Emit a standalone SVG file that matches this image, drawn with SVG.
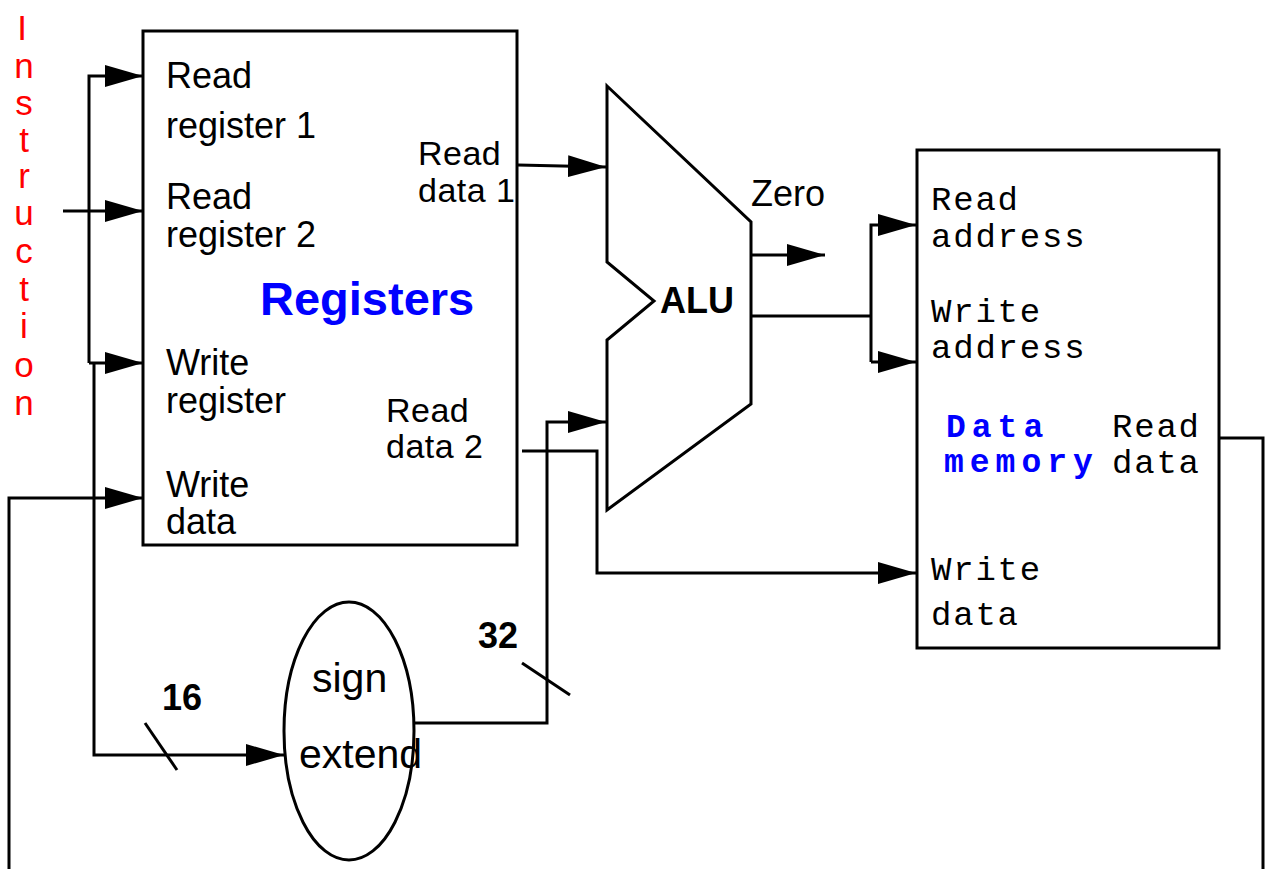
<svg xmlns="http://www.w3.org/2000/svg" width="1265" height="869" viewBox="0 0 1265 869">
  <style>
    .wire { fill: none; stroke: #000; stroke-width: 3; }
    .box { fill: #fff; stroke: #000; stroke-width: 3; }
    .lbl { font-family: "Liberation Sans", Arial, sans-serif; font-size: 36px; fill: #000; }
    .sm { font-size: 34px; letter-spacing: 0.5px; }
    .big { font-size: 41px; }
    .bold { font-family: "Liberation Sans", Arial, sans-serif; font-weight: bold; font-size: 36px; fill: #000; }
    .title { font-family: "Liberation Sans", Arial, sans-serif; font-weight: bold; font-size: 47px; fill: #0000ff; }
    .mono { font-family: "Liberation Mono", "Courier New", monospace; font-size: 34px; letter-spacing: 1.8px; fill: #000; }
    .monob { font-family: "Liberation Mono", "Courier New", monospace; font-weight: bold; font-size: 33px; fill: #0000ff; letter-spacing: 6px; }
    .instr { font-family: "Liberation Sans", Arial, sans-serif; font-size: 35px; fill: #ff0000; text-anchor: middle; }
  </style>
  <defs>
    <marker id="arrow" markerUnits="userSpaceOnUse" markerWidth="38" markerHeight="22" refX="38" refY="11" orient="auto">
      <path d="M0,0 L38,11 L0,22 z" fill="#000"/>
    </marker>
  </defs>

  <rect width="1265" height="869" fill="#fff"/>

  <!-- Instruction label, one letter per line -->
  <g id="instruction">
    <text class="instr" x="22" y="40">I</text>
    <text class="instr" x="24" y="78">n</text>
    <text class="instr" x="24" y="115">s</text>
    <text class="instr" x="24" y="152">t</text>
    <text class="instr" x="24" y="188">r</text>
    <text class="instr" x="24" y="225">u</text>
    <text class="instr" x="24" y="263">c</text>
    <text class="instr" x="24" y="301">t</text>
    <text class="instr" x="24" y="338">i</text>
    <text class="instr" x="24" y="377">o</text>
    <text class="instr" x="24" y="415">n</text>
  </g>

  <!-- Register file -->
  <g id="registers">
    <rect class="box" x="143" y="31" width="374" height="514"/>
    <text class="lbl" x="166" y="88">Read</text>
    <text class="lbl" x="166" y="138">register 1</text>
    <text class="lbl" x="166" y="209">Read</text>
    <text class="lbl" x="166" y="247">register 2</text>
    <text class="title" x="260" y="315">Registers</text>
    <text class="lbl" x="166" y="375">Write</text>
    <text class="lbl" x="166" y="413">register</text>
    <text class="lbl" x="166" y="497">Write</text>
    <text class="lbl" x="166" y="534">data</text>
    <text class="lbl sm" x="418" y="165">Read</text>
    <text class="lbl sm" x="418" y="202">data 1</text>
    <text class="lbl sm" x="386" y="422">Read</text>
    <text class="lbl sm" x="386" y="458">data 2</text>
  </g>

  <!-- ALU -->
  <g id="alu">
    <polygon class="box" points="607,86 751,222 751,404 607,510 607,340 654,301 607,262"/>
    <text class="bold" x="660" y="313">ALU</text>
    <text class="lbl" x="751" y="206">Zero</text>
  </g>

  <!-- Data memory -->
  <g id="data-memory">
    <rect class="box" x="917" y="150" width="302" height="498"/>
    <text class="mono" x="931" y="210">Read</text>
    <text class="mono" x="931" y="247">address</text>
    <text class="mono" x="931" y="322">Write</text>
    <text class="mono" x="931" y="358">address</text>
    <text class="monob" x="946" y="437">Data</text>
    <text class="monob" x="944" y="472">memory</text>
    <text class="mono" x="1112" y="437">Read</text>
    <text class="mono" x="1112" y="473">data</text>
    <text class="mono" x="931" y="580">Write</text>
    <text class="mono" x="931" y="625">data</text>
  </g>

  <!-- Sign extension unit -->
  <g id="sign-extend">
    <ellipse class="box" cx="349" cy="731" rx="65" ry="129"/>
    <text class="lbl big" x="312" y="692">sign</text>
    <text class="lbl big" x="299" y="768">extend</text>
  </g>

  <!-- Wires -->
  <g id="connectors">
    <!-- instruction bus -->
    <path class="wire" d="M63,211 H143" marker-end="url(#arrow)"/>
    <path class="wire" d="M89,363 V76 H143" marker-end="url(#arrow)"/>
    <path class="wire" d="M89,363 H143" marker-end="url(#arrow)"/>
    <!-- immediate field to sign extend -->
    <path class="wire" d="M94,362 V755 H284" marker-end="url(#arrow)"/>
    <line class="wire" x1="145" y1="723" x2="177" y2="770"/>
    <text class="bold" x="162" y="710">16</text>
    <!-- write-back to register file -->
    <path class="wire" d="M9,869 V498 H143" marker-end="url(#arrow)"/>
    <!-- read data 1 to ALU -->
    <path class="wire" d="M518,165 L606,167" marker-end="url(#arrow)"/>
    <!-- sign extend to ALU -->
    <path class="wire" d="M415,723 H547 V422 H606" marker-end="url(#arrow)"/>
    <line class="wire" x1="522" y1="663" x2="570" y2="695"/>
    <text class="bold" x="478" y="648">32</text>
    <!-- read data 2 to memory write data -->
    <path class="wire" d="M522,451 H597 V573 H916" marker-end="url(#arrow)"/>
    <!-- zero flag -->
    <path class="wire" d="M751,255 H825" marker-end="url(#arrow)"/>
    <!-- ALU result to memory addresses -->
    <path class="wire" d="M751,316 H871"/>
    <path class="wire" d="M871,362 V225 H916" marker-end="url(#arrow)"/>
    <path class="wire" d="M871,362 H916" marker-end="url(#arrow)"/>
    <!-- memory read data out -->
    <path class="wire" d="M1220,438 H1263 V869"/>
  </g>
</svg>
